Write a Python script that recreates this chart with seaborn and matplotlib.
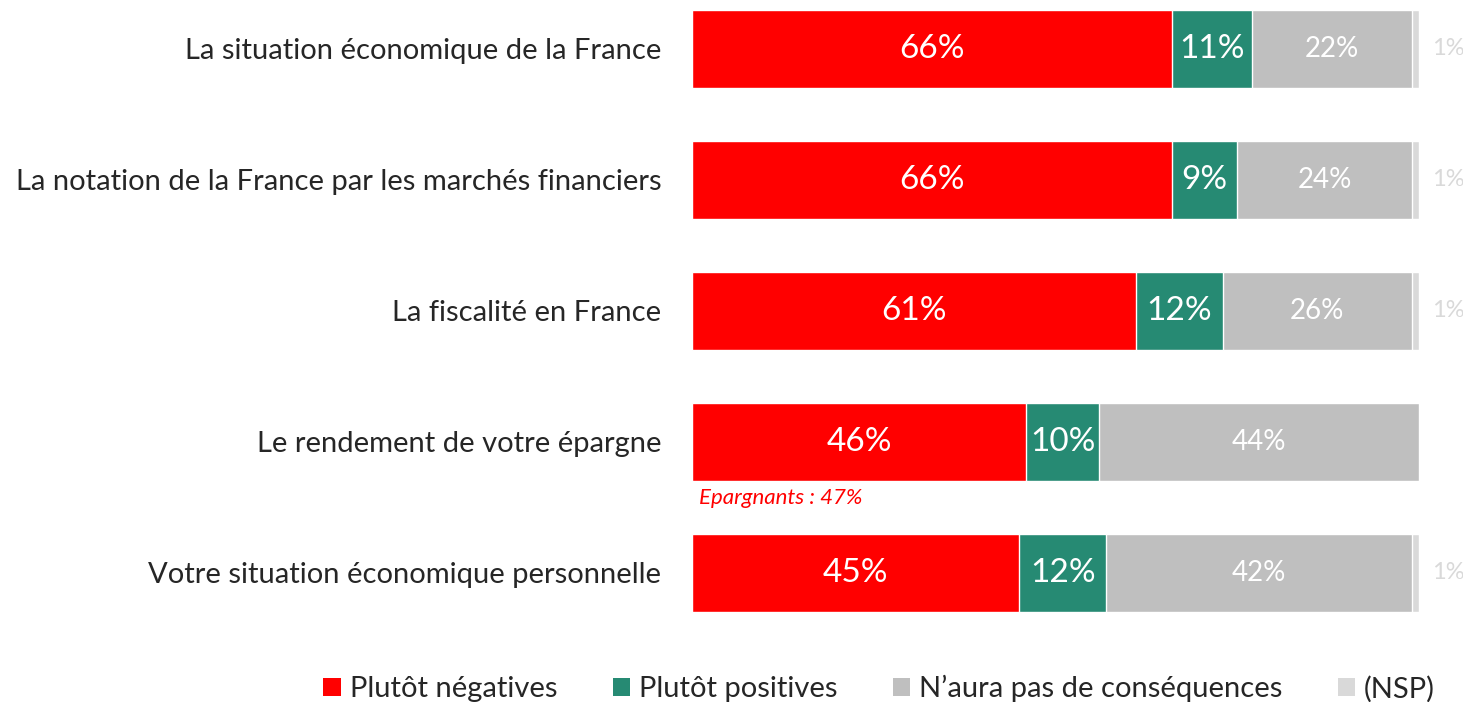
import matplotlib
matplotlib.use("Agg")
import matplotlib.pyplot as plt
import seaborn as sns
import numpy as np
import pandas as pd
from matplotlib.patches import Patch

items = [
    "La situation économique de la France",
    "La notation de la France par les marchés financiers",
    "La fiscalité en France",
    "Le rendement de votre épargne",
    "Votre situation économique personnelle",
]
negatives = [66, 66, 61, 46, 45]
positives = [11, 9, 12, 10, 12]
sans_consequences = [22, 24, 26, 44, 42]
nsp = [1, 1, 1, 0, 1]

series_names = ["Plutôt négatives", "Plutôt positives", "N\u2019aura pas de conséquences", "(NSP)"]
colors = ["#FF0000", "#268A73", "#BFBFBF", "#D9D9D9"]

sns.set_theme(style="white")
plt.rcParams["font.family"] = ["Lato", "DejaVu Sans"]

df = pd.DataFrame({
    "item": items,
    "neg": negatives,
    "pos": positives,
    "sans": sans_consequences,
    "nsp": nsp,
})
cols = ["neg", "pos", "sans", "nsp"]
cum = df[cols].cumsum(axis=1)

fig = plt.figure(figsize=(14.63, 7.02), dpi=100)
ax = fig.add_axes([0.473, 0.1278, 0.497, 0.8584])

# stacked bars: draw cumulative totals from the outermost segment inwards
for col, color in zip(cols[::-1], colors[::-1]):
    sns.barplot(x=cum[col], y=df["item"], orient="h", color=color,
                width=0.6, errorbar=None, ax=ax, saturation=1)

ax.set_xlim(0, 100)
ax.set_ylim(4.3, -0.3)
ax.set_xlabel("")
ax.set_ylabel("")
ax.set_xticks([])
sns.despine(ax=ax, left=True, bottom=True)
ax.tick_params(axis="y", length=0, pad=22, labelsize=21, labelcolor="#262626")

# segment labels
for i, row in df.iterrows():
    start = 0
    for col in cols[:3]:
        v = row[col]
        mid = start + v / 2
        if col == "sans":
            ax.text(mid, i, f"{v}%", ha="center", va="center", color="white",
                    fontsize=20)
        else:
            ax.text(mid, i, f"{v}%", ha="center", va="center", color="white",
                    fontsize=24)
        start += v
    if row["nsp"] > 0:
        ax.text(104, i, f"{row['nsp']}%", ha="center", va="center",
                color="#D9D9D9", fontsize=17, clip_on=False)

ax.text(1.0, 3.43, "Epargnants : 47%", color="#FF0000", fontsize=16,
        style="italic", ha="left", va="center")

handles = [Patch(facecolor=c, edgecolor="none") for c in colors]
fig.legend(handles, series_names, loc="lower center", ncol=4,
           bbox_to_anchor=(0.601, -0.038), frameon=False, fontsize=21,
           handlelength=0.6, handleheight=0.6, handletextpad=0.3,
           columnspacing=1.9, labelcolor="#262626")

fig.savefig("out.png", dpi=100)
